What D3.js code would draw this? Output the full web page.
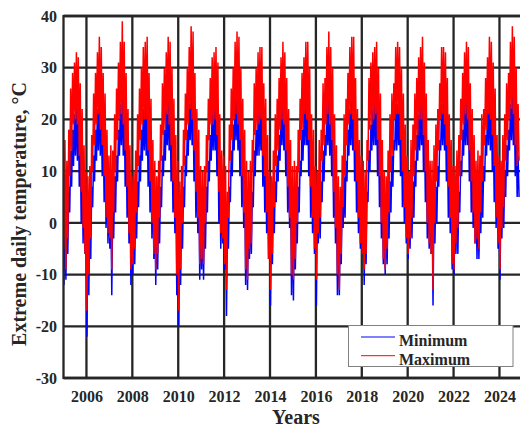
<!DOCTYPE html>
<html>
<head>
<meta charset="utf-8">
<script src="https://cdn.jsdelivr.net/npm/d3@7"></script>
<style>
  html, body { margin: 0; padding: 0; background: #fff; }
  svg { display: block; }
  text { font-family: "Liberation Serif", "Times New Roman", serif; font-weight: bold; fill: #262626; }
</style>
</head>
<body>
<svg id="chart" width="520" height="427"></svg>
<script>
// Half-monthly samples of the daily extremes (°C), one row per year, Jan..Dec.
// Each month contributes a low reading and a high reading.
const years = [2005, 2006, 2007, 2008, 2009, 2010, 2011, 2012, 2013, 2014,
               2015, 2016, 2017, 2018, 2019, 2020, 2021, 2022, 2023, 2024];

const tMax = [
  [-5,16, -9,12, -3,18, 9,26, 14,29, 19,31, 20,33, 19,32, 13,27, 6,22, -1,15, -6,10],
  [-17,9, -10,11, -3,17, 10,25, 15,29, 19,33, 21,36, 18,34, 15,29, 9,25, 1,18, -2,13],
  [-3,15, -9,14, 2,21, 10,26, 16,31, 20,35, 21,39, 19,35, 14,29, 7,22, -2,15, -9,9],
  [-8,10, -5,14, 2,21, 11,26, 16,30, 19,34, 20,35, 20,36, 14,29, 8,24, 0,16, -6,12],
  [-9,9, -6,12, 1,19, 12,27, 17,30, 18,33, 21,36, 19,35, 15,30, 8,24, 1,17, -10,12],
  [-17,8, -9,11, 0,18, 11,25, 16,30, 19,34, 22,38, 20,37, 14,29, 6,22, 1,18, -8,11],
  [-7,10, -8,11, 0,17, 10,24, 16,28, 19,32, 19,33, 20,34, 17,31, 6,21, -2,14, -3,13],
  [-8,11, -13,6, 1,19, 12,26, 16,30, 20,35, 21,37, 19,36, 16,30, 9,24, 2,18, -9,12],
  [-11,10, -5,12, -4,16, 10,27, 17,30, 18,33, 19,34, 20,34, 13,27, 9,24, 2,17, -7,10],
  [-13,9, -6,14, 3,21, 11,24, 14,28, 18,32, 20,35, 19,33, 14,28, 7,22, 1,16, -10,11],
  [-11,12, -7,11, 0,18, 10,24, 16,29, 18,32, 21,35, 20,35, 16,30, 7,21, 1,18, -5,11],
  [-11,10, -2,16, 1,18, 12,27, 15,28, 19,34, 21,37, 19,34, 16,30, 6,21, -1,15, -10,9],
  [-13,7, -6,13, 3,21, 9,24, 15,29, 19,34, 21,36, 20,36, 14,28, 8,22, 1,16, -4,13],
  [-6,12, -9,10, -6,16, 12,28, 18,31, 19,33, 20,34, 21,35, 16,30, 9,25, 0,16, -7,10],
  [-9,9, -5,14, 2,21, 10,25, 13,27, 20,34, 21,35, 21,34, 16,30, 10,25, 3,19, -3,13],
  [-6,10, -3,16, 1,19, 9,25, 14,28, 17,32, 20,34, 20,36, 17,31, 10,25, 0,16, -4,12],
  [-6,12, -13,15, 0,19, 8,22, 14,27, 20,34, 21,34, 19,33, 15,28, 7,21, 1,16, -8,11],
  [-9,11, -4,14, -1,17, 9,24, 16,29, 19,33, 21,35, 20,34, 14,27, 8,22, 2,17, -4,12],
  [-3,14, -5,13, 2,21, 8,22, 15,28, 18,32, 21,36, 20,35, 17,31, 11,26, 1,17, -4,13],
  [-9,12, -1,17, 3,21, 12,27, 16,29, 20,35, 22,38, 21,36, 15,30, 11,23, 12]
];

const tMin = [
  [-12,4, -11,3, -6,7, 2,14, 7,18, 11,21, 13,23, 12,22, 7,18, 0,12, -4,8, -6,4],
  [-22,2, -14,3, -7,7, 3,13, 8,18, 12,22, 14,24, 13,23, 9,19, 4,15, -1,10, -4,6],
  [-5,6, -14,4, -3,9, 2,13, 8,18, 13,23, 15,25, 13,23, 7,18, 1,12, -4,8, -12,3],
  [-10,3, -8,4, -3,8, 3,13, 8,18, 12,22, 14,23, 13,23, 7,18, 2,13, -3,9, -7,5],
  [-12,2, -9,4, -4,7, 3,13, 9,18, 12,22, 15,24, 14,23, 8,19, 2,13, -2,9, -14,4],
  [-20,1, -12,3, -5,7, 3,13, 9,18, 13,23, 16,25, 15,24, 8,18, 1,12, -2,10, -11,3],
  [-9,3, -11,2, -5,7, 2,12, 8,17, 12,22, 14,23, 14,23, 9,19, 0,11, -5,6, -4,6],
  [-9,4, -18,1, -5,7, 4,14, 9,19, 14,24, 16,25, 14,24, 9,19, 3,14, -1,10, -12,4],
  [-13,3, -7,4, -6,6, 3,14, 9,18, 13,22, 13,23, 14,23, 7,17, 2,13, -2,9, -7,3],
  [-16,2, -8,5, -2,8, 4,13, 8,17, 12,22, 15,24, 14,22, 9,18, 2,12, -1,9, -14,3],
  [-15,3, -9,3, -4,7, 2,12, 9,18, 12,22, 15,24, 15,24, 9,19, 1,12, -2,10, -6,4],
  [-16,3, -4,6, -3,8, 4,14, 8,17, 13,23, 15,24, 13,22, 9,19, 1,11, -4,8, -14,2],
  [-14,0, -8,5, -1,9, 1,12, 8,18, 13,22, 15,24, 14,24, 8,18, 2,12, -2,9, -5,5],
  [-6,5, -12,2, -8,6, 4,14, 10,19, 14,22, 15,24, 15,24, 9,19, 3,14, -3,8, -8,3],
  [-10,2, -8,4, -3,8, 2,13, 7,16, 14,23, 14,23, 15,24, 9,19, 3,14, 0,11, -4,5],
  [-7,3, -5,6, -3,8, 1,12, 7,17, 12,21, 14,23, 15,24, 10,20, 4,14, -3,8, -5,5],
  [-6,5, -16,3, -4,7, 0,11, 7,16, 14,23, 15,24, 14,22, 8,18, 1,11, -2,9, -9,4],
  [-10,4, -6,5, -6,6, 2,12, 9,18, 13,23, 15,24, 15,23, 8,17, 2,12, -1,9, -4,6],
  [-7,5, -7,4, -2,9, 1,11, 8,17, 13,22, 15,24, 14,24, 10,20, 4,15, -1,10, -5,5],
  [-11,3, -3,7, -1,10, 5,15, 9,18, 14,23, 16,25, 15,24, 9,19, 5,13, 5]
];

const xTicks = [2006, 2008, 2010, 2012, 2014, 2016, 2018, 2020, 2022, 2024];
const yTicks = [-30, -20, -10, 0, 10, 20, 30, 40];
const seriesNames = ["Minimum", "Maximum"];
const seriesColors = ["#0000ff", "#ff0000"];

// Flatten the rows into (decimal year, value) points at mid half-month.
function toPoints(rows) {
  const pts = [];
  rows.forEach((row, i) => {
    row.forEach((v, k) => pts.push({ t: years[i] + (k + 0.5) / 24, v }));
  });
  return pts;
}
const minPts = toPoints(tMin);
const maxPts = toPoints(tMax);

const svg = d3.select("#chart");
const padL = 63.5, padR = 527, padT = 16, padB = 378;

const x = d3.scaleLinear().domain([2005, 2025.2]).range([padL, padR]);
const y = d3.scaleLinear().domain([-30, 40]).range([padB, padT]);

const gridColor = "#262626";

// Grid (drawn beneath the data)
const grid = svg.append("g");
grid.selectAll(".vg").data(xTicks).join("line")
  .attr("x1", d => x(d)).attr("x2", d => x(d))
  .attr("y1", padT).attr("y2", padB)
  .attr("stroke", gridColor).attr("stroke-width", 2.3);
grid.selectAll(".hg").data(yTicks).join("line")
  .attr("x1", padL).attr("x2", padR)
  .attr("y1", d => y(d)).attr("y2", d => y(d))
  .attr("stroke", gridColor).attr("stroke-width", 2.3);

svg.append("defs").append("clipPath").attr("id", "plot")
  .append("rect").attr("x", padL).attr("y", padT)
  .attr("width", padR - padL).attr("height", padB - padT);

const line = d3.line().x(d => x(d.t)).y(d => y(d.v));
const plot = svg.append("g").attr("clip-path", "url(#plot)");
plot.append("path").datum(minPts).attr("d", line)
  .attr("fill", "none").attr("stroke", seriesColors[0]).attr("stroke-width", 1.5);
plot.append("path").datum(maxPts).attr("d", line)
  .attr("fill", "none").attr("stroke", seriesColors[1]).attr("stroke-width", 1.5);

// Axes frame
svg.append("line").attr("x1", padL).attr("x2", padL).attr("y1", padT - 1).attr("y2", padB + 1)
  .attr("stroke", gridColor).attr("stroke-width", 2.3);
svg.append("line").attr("x1", padL).attr("x2", padR).attr("y1", padB).attr("y2", padB)
  .attr("stroke", gridColor).attr("stroke-width", 2.3);
svg.append("line").attr("x1", padL).attr("x2", padR).attr("y1", padT).attr("y2", padT)
  .attr("stroke", gridColor).attr("stroke-width", 2.3);

// Tick labels via d3 axes (tick marks hidden, grid already drawn)
const xAxis = d3.axisBottom(x).tickValues(xTicks).tickFormat(d => String(d)).tickSize(0).tickPadding(0);
const gx = svg.append("g").attr("transform", `translate(0,${padB})`).call(xAxis);
gx.select(".domain").remove();
gx.selectAll("text").attr("dy", null).attr("y", 23.5)
  .style("font-size", "16px").style("font-family", "Liberation Serif").style("font-weight", "bold").attr("fill", "#262626");

const yAxis = d3.axisLeft(y).tickValues(yTicks).tickFormat(d => String(d)).tickSize(0).tickPadding(0);
const gy = svg.append("g").attr("transform", `translate(${padL},0)`).call(yAxis);
gy.select(".domain").remove();
gy.selectAll("text").attr("x", -6.5).attr("dy", "0.33em")
  .style("font-size", "16px").style("font-family", "Liberation Serif").style("font-weight", "bold").attr("fill", "#262626");

// Axis titles
svg.append("text").attr("x", 296).attr("y", 424).attr("text-anchor", "middle")
  .style("font-size", "20px").text("Years");
svg.append("text").attr("transform", `translate(26,214) rotate(-90)`).attr("text-anchor", "middle")
  .style("font-size", "20px").text("Extreme daily temperature, °C");

// Legend
const lg = svg.append("g");
lg.append("rect").attr("x", 348.5).attr("y", 325.5).attr("width", 164.5).attr("height", 41)
  .attr("fill", "#fff").attr("stroke", "#808080").attr("stroke-width", 1);
seriesNames.forEach((name, i) => {
  const ly = 337 + i * 18.7;
  lg.append("line").attr("x1", 361).attr("x2", 395).attr("y1", ly).attr("y2", ly)
    .attr("stroke", seriesColors[i]).attr("stroke-width", 1);
  lg.append("text").attr("x", 399).attr("y", ly + 9).style("font-size", "16px").text(name);
});
</script>
</body>
</html>
